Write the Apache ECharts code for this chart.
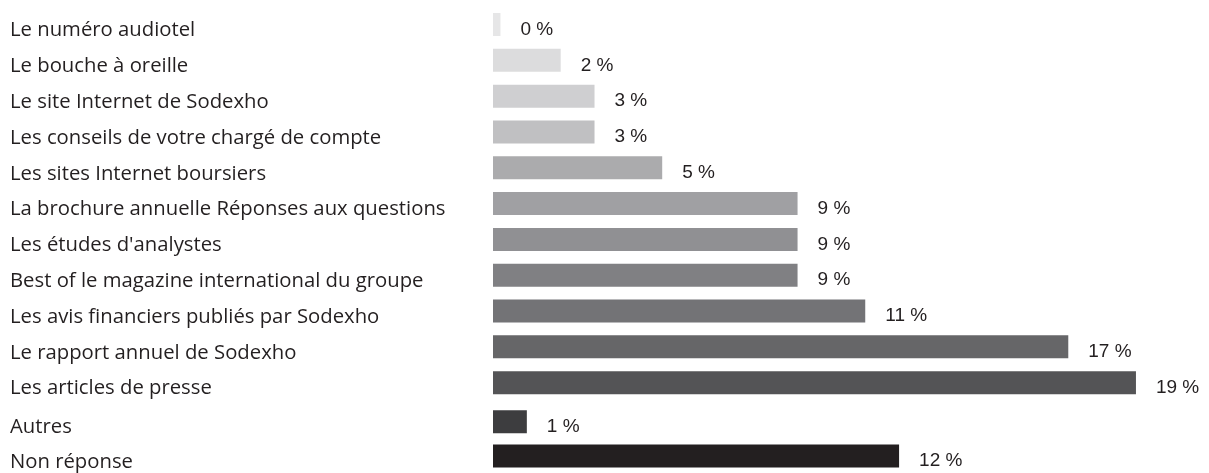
<!DOCTYPE html>
<html>
<head>
<meta charset="utf-8">
<script src="https://cdn.jsdelivr.net/npm/echarts@6/dist/echarts.min.js"></script>
<style>
  html, body { margin: 0; padding: 0; background: #fff; }
  #chartDiv { width: 1209px; height: 473px; }
</style>
</head>
<body>
<div id="chartDiv"></div>
<script>
// sources d'information - partie haute
const mainCategories = [
  'Le numéro audiotel',
  'Le bouche à oreille',
  'Le site Internet de Sodexho',
  'Les conseils de votre chargé de compte',
  'Les sites Internet boursiers',
  'La brochure annuelle Réponses aux questions',
  "Les études d'analystes",
  'Best of le magazine international du groupe',
  'Les avis financiers publiés par Sodexho',
  'Le rapport annuel de Sodexho',
  'Les articles de presse'
];
const mainValues = [0.22, 2, 3, 3, 5, 9, 9, 9, 11, 17, 19];

// partie basse
const otherCategories = ['Autres', 'Non réponse'];
const otherValues = [1, 12];

const mainColors = ['#e6e6e7', '#dcdcdd', '#cfcfd1', '#c0c0c2', '#ababad', '#a0a0a3',
  '#909093', '#808083', '#737376', '#666668', '#545456'];
const otherColors = ['#3d3d3f', '#231f20'];

const CAT_FONT = 'Open Sans';
const VAL_FONT = 'Liberation Sans';
const X_MAX = 20;

const chart = echarts.init(document.getElementById('chartDiv'));

function makeYAxis(gridIndex, cats) {
  return {
    type: 'category',
    gridIndex: gridIndex,
    data: cats,
    inverse: true,
    axisLine: { show: false },
    axisTick: { show: false },
    splitLine: { show: false },
    axisLabel: {
      align: 'left',
      margin: 483,
      formatter: (v) => '{t|' + v + '}',
      rich: {
        t: {
          color: '#231f20',
          fontFamily: CAT_FONT,
          fontSize: 20.3,
          padding: [12, 0, 0, 0]
        }
      }
    }
  };
}

function makeXAxis(gridIndex) {
  return {
    type: 'value',
    gridIndex: gridIndex,
    min: 0,
    max: X_MAX,
    show: false
  };
}

function makeSeries(idx, values, colors) {
  return {
    type: 'bar',
    xAxisIndex: idx,
    yAxisIndex: idx,
    barWidth: 23,
    silent: true,
    data: values.map((v, i) => ({ value: v, itemStyle: { color: colors[i] } })),
    label: {
      show: true,
      position: 'right',
      distance: 20,
      offset: [0, 5],
      color: '#231f20',
      fontFamily: VAL_FONT,
      fontSize: 19,
      formatter: (p) => Math.round(p.value) + ' %'
    }
  };
}

const option = {
  animation: false,
  grid: [
    { left: 493, right: 39.2, top: 6.6, height: 394 },
    { left: 493, right: 39.2, top: 404.5, height: 72 }
  ],
  xAxis: [makeXAxis(0), makeXAxis(1)],
  yAxis: [makeYAxis(0, mainCategories), makeYAxis(1, otherCategories)],
  series: [
    makeSeries(0, mainValues, mainColors),
    makeSeries(1, otherValues, otherColors)
  ]
};

chart.setOption(option);
</script>
</body>
</html>
